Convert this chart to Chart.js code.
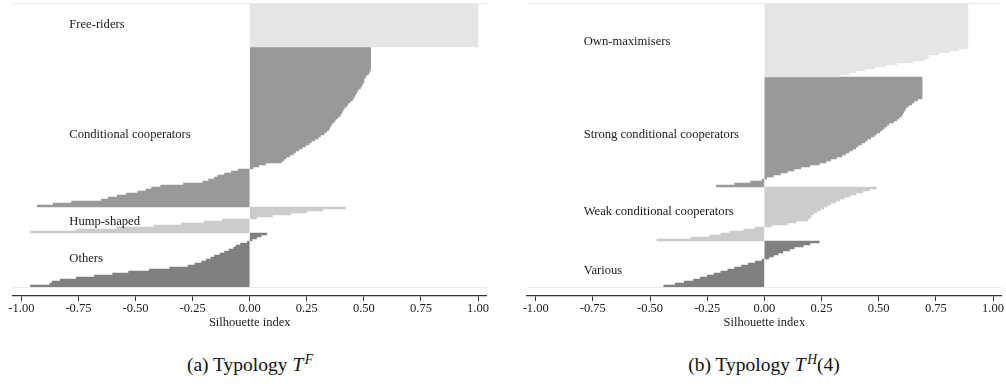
<!DOCTYPE html>
<html>
<head>
<meta charset="utf-8">
<script src="https://cdn.jsdelivr.net/npm/chart.js@4.4.1/dist/chart.umd.min.js"></script>
<style>
  body { margin: 0; background: #fff; }
  #wrap { position: relative; width: 1006px; height: 391px; overflow: hidden; }
  .panel { position: absolute; top: 0; width: 500px; height: 340px; }
  #panelA { left: 0; }
  #panelB { left: 506px; }
  .caption {
    position: absolute; top: 353px; width: 300px; text-align: center;
    font-family: "Liberation Serif", "Times New Roman", serif; font-size: 19.5px;
    line-height: 24px; color: #111;
  }
  .caption sup { font-size: 0.7em; vertical-align: 0.5em; line-height: 0; margin-left: 1.5px; }
  #capA { left: 100px; }
  #capB { left: 614px; }
</style>
</head>
<body>
<div id="wrap">
  <canvas id="panelA" class="panel" width="500" height="340"></canvas>
  <canvas id="panelB" class="panel" width="500" height="340"></canvas>
  <div id="capA" class="caption">(a) Typology <i>T</i><sup><i>F</i></sup></div>
  <div id="capB" class="caption">(b) Typology <i>T</i><sup><i>H</i></sup>(4)</div>
</div>
<script>
const tickValues = [-1, -0.75, -0.5, -0.25, 0, 0.25, 0.5, 0.75, 1];

// (a) Typology T^F
const namesF = ['Free-riders', 'Conditional cooperators', 'Hump-shaped', 'Others'];
const freeRiders = [1.00, 1.00, 1.00, 1.00, 1.00, 1.00, 1.00, 1.00, 1.00, 1.00, 1.00,
  1.00, 1.00, 1.00, 1.00, 1.00, 1.00, 1.00, 1.00, 1.00, 1.00, 1.00];
const condCoop = [0.53, 0.53, 0.53, 0.53, 0.53, 0.53, 0.53, 0.53, 0.53, 0.53, 0.53, 0.528,
  0.525, 0.52, 0.51, 0.505, 0.50, 0.50, 0.495, 0.49, 0.485, 0.475, 0.47, 0.465, 0.46, 0.455,
  0.45, 0.44, 0.43, 0.425, 0.415, 0.41, 0.405, 0.40, 0.395, 0.385, 0.375, 0.37, 0.36, 0.355,
  0.35, 0.345, 0.335, 0.325, 0.31, 0.30, 0.285, 0.27, 0.26, 0.245, 0.23, 0.215, 0.20, 0.19,
  0.175, 0.16, 0.15, 0.14, 0.07, 0.04, 0.015,
  -0.05, -0.08, -0.11, -0.14, -0.155, -0.18, -0.205, -0.29, -0.39, -0.43, -0.455, -0.49,
  -0.54, -0.58, -0.62, -0.65, -0.78, -0.86, -0.93];
const humpShaped = [0.42, 0.32, 0.25, 0.18, 0.10, 0.03, -0.12, -0.20, -0.30, -0.42, -0.58, -0.76, -0.96];
const othersF = [0.075, 0.05, 0.03, 0.01, -0.01, -0.04, -0.06, -0.07, -0.09, -0.11, -0.13, -0.155,
  -0.17, -0.19, -0.21, -0.24, -0.27, -0.35, -0.44, -0.53, -0.60, -0.68, -0.76, -0.83, -0.865,
  -0.875, -0.96];

// (b) Typology T^H(4)
const namesH = ['Own-maximisers', 'Strong conditional cooperators', 'Weak conditional cooperators', 'Various'];
const ownMax = [0.89, 0.89, 0.89, 0.89, 0.89, 0.89, 0.89, 0.89, 0.89, 0.89, 0.89, 0.89, 0.89,
  0.89, 0.89, 0.89, 0.89, 0.89, 0.89, 0.89, 0.89, 0.89,
  0.885, 0.85, 0.81, 0.76, 0.72, 0.715, 0.70, 0.65, 0.58, 0.53, 0.48, 0.44, 0.40, 0.37, 0.33];
const strongCC = [0.69, 0.69, 0.69, 0.69, 0.69, 0.69, 0.69, 0.69, 0.69, 0.69, 0.69,
  0.67, 0.655, 0.645, 0.63, 0.62, 0.615, 0.61, 0.605, 0.60, 0.59, 0.58, 0.565, 0.545, 0.535,
  0.525, 0.515, 0.505, 0.49, 0.48, 0.465, 0.45, 0.44, 0.425, 0.41, 0.40, 0.385, 0.37, 0.355,
  0.34, 0.315, 0.29, 0.27, 0.24, 0.20, 0.16, 0.13, 0.10, 0.07, 0.04, 0.01,
  -0.01, -0.06, -0.13, -0.21];
const weakCC = [0.49, 0.46, 0.43, 0.40, 0.375, 0.35, 0.33, 0.31, 0.29, 0.275, 0.26, 0.245, 0.23,
  0.215, 0.205, 0.20, 0.19, 0.14, 0.10, 0.03,
  -0.04, -0.09, -0.15, -0.19, -0.24, -0.32, -0.47];
const various = [0.24, 0.20, 0.17, 0.13, 0.11, 0.08, 0.06, 0.04, 0.02,
  -0.01, -0.04, -0.07, -0.10, -0.13, -0.16, -0.19, -0.22, -0.25, -0.28, -0.31, -0.35, -0.39, -0.44];

const shades = ['#e5e5e5', '#999999', '#cccccc', '#808080'];
const serif = '"Liberation Serif", "Times New Roman", serif';

// cluster names, top and bottom faint rules
const clusterText = {
  id: 'clusterText',
  afterDatasetsDraw(chart, args, opts) {
    const { ctx, chartArea, scales } = chart;
    const x = scales.x, y = scales.y;
    ctx.save();
    ctx.strokeStyle = '#e4ecec';
    ctx.lineWidth = 1;
    [-0.5, opts.total - 0.5].forEach(v => {
      const py = Math.round(y.getPixelForValue(v)) + 0.5;
      ctx.beginPath();
      ctx.moveTo(chartArea.left, py);
      ctx.lineTo(chartArea.right, py);
      ctx.stroke();
    });
    ctx.font = '12.6px ' + serif;
    ctx.fillStyle = '#1a1a1a';
    ctx.textBaseline = 'middle';
    ctx.textAlign = 'left';
    opts.names.forEach((name, i) => {
      ctx.fillText(name, x.getPixelForValue(opts.labelX), y.getPixelForValue(opts.rows[i]));
    });
    ctx.restore();
  }
};

function makePanel(id, names, groups, rows, pad) {
  let start = 0;
  const datasets = groups.map((vals, g) => {
    const data = vals.map((v, i) => ({ x: v, y: start + i }));
    start += vals.length;
    return {
      label: names[g],
      data: data,
      backgroundColor: shades[g],
      borderWidth: 0,
      inflateAmount: 0.3,
      grouped: false,
      barPercentage: 1,
      categoryPercentage: 1
    };
  });
  const total = start;

  new Chart(document.getElementById(id), {
    type: 'bar',
    data: { datasets: datasets },
    options: {
      indexAxis: 'y',
      responsive: false,
      animation: false,
      devicePixelRatio: 1,
      layout: { padding: pad },
      plugins: {
        legend: { display: false },
        tooltip: { enabled: false },
        clusterText: { names: names, rows: rows, labelX: -0.79, total: total }
      },
      scales: {
        y: {
          type: 'linear',
          reverse: true,
          offset: false,
          bounds: 'data',
          grace: 0,
          display: false,
          afterDataLimits: s => { s.min = -0.5; s.max = total + 4; }
        },
        x: {
          type: 'linear',
          min: -1.038,
          max: 1.038,
          afterBuildTicks: s => { s.ticks = tickValues.map(v => ({ value: v })); },
          grid: { display: true, drawOnChartArea: false, drawTicks: true, tickLength: 5, color: '#333', lineWidth: 1 },
          border: { display: true, color: '#333', width: 1.3 },
          ticks: {
            color: '#1a1a1a',
            padding: 0,
            maxRotation: 0,
            autoSkip: false,
            font: { family: serif, size: 12.5 },
            callback: v => Number(v).toFixed(2)
          },
          title: {
            display: true,
            text: 'Silhouette index',
            color: '#1a1a1a',
            font: { family: serif, size: 12.5 },
            padding: { top: -1, bottom: 0 }
          }
        }
      }
    },
    plugins: [clusterText]
  });
}

makePanel('panelA', namesF, [freeRiders, condCoop, humpShaped, othersF],
  [10.5, 65.5, 109, 127.5], { left: 12.7, right: 13.3, top: 3, bottom: 10 });
makePanel('panelB', namesH, [ownMax, strongCC, weakCC, various],
  [18.9, 65.5, 103.9, 133.4], { left: 21, right: 4.3, top: 3, bottom: 10 });
</script>
</body>
</html>
